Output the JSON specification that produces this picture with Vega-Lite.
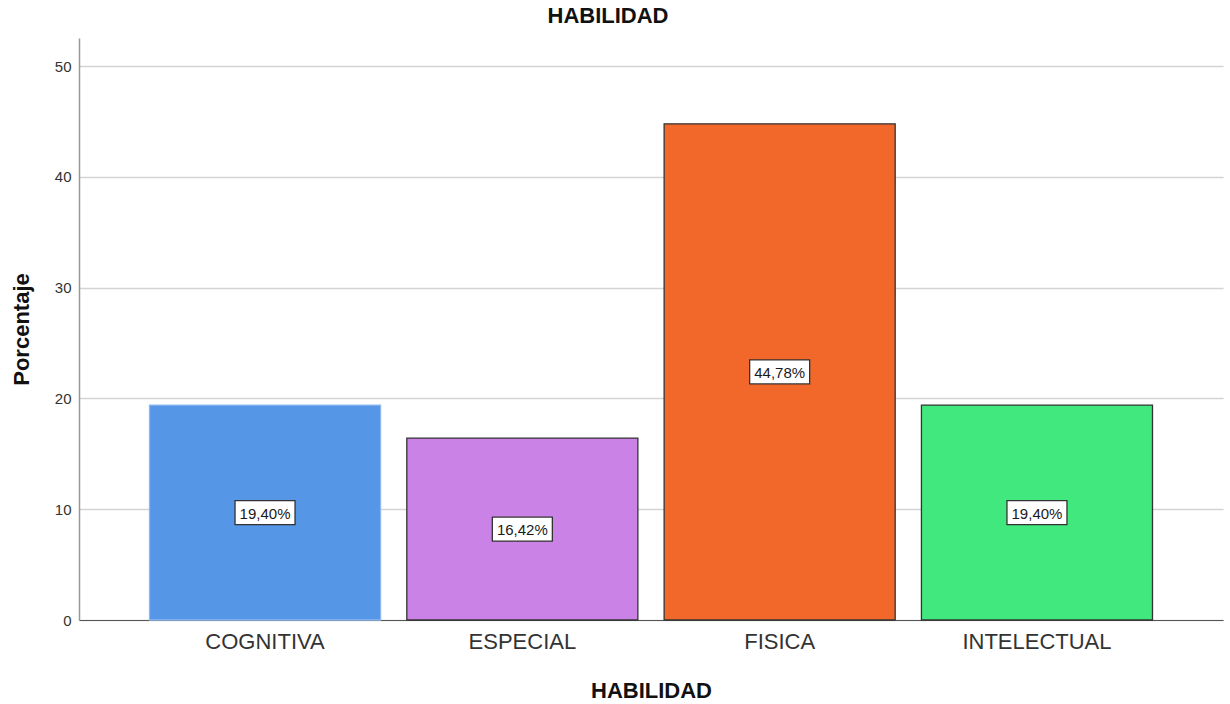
{
  "$schema": "https://vega.github.io/schema/vega-lite/v6.json",
  "autosize": {"type": "none"},
  "width": 1144,
  "height": 582,
  "padding": {"left": 79, "top": 38, "right": 7, "bottom": 84},
  "background": "white",
  "title": {
    "text": "HABILIDAD",
    "font": "Liberation Sans",
    "fontSize": 22,
    "fontWeight": "bold",
    "color": "#111",
    "anchor": "middle",
    "frame": "group",
    "offset": 10,
    "dx": -43
  },
  "data": {
    "values": [
      {"habilidad": "COGNITIVA", "porcentaje": 19.40, "label": "19,40%"},
      {"habilidad": "ESPECIAL", "porcentaje": 16.42, "label": "16,42%"},
      {"habilidad": "FISICA", "porcentaje": 44.78, "label": "44,78%"},
      {"habilidad": "INTELECTUAL", "porcentaje": 19.40, "label": "19,40%"}
    ]
  },
  "transform": [{"calculate": "datum.porcentaje / 2", "as": "mid"}],
  "encoding": {
    "x": {
      "field": "habilidad",
      "type": "nominal",
      "sort": null,
      "scale": {"paddingInner": 0.102, "paddingOuter": 0.274},
      "axis": {
        "title": "HABILIDAD",
        "labelAngle": 0,
        "labelFont": "Liberation Sans",
        "labelFontSize": 22,
        "labelColor": "#333",
        "labelPadding": 11,
        "ticks": false,
        "domainColor": "#555",
        "domainWidth": 1.2,
        "titleFont": "Liberation Sans",
        "titleFontSize": 22,
        "titleFontWeight": "bold",
        "titleColor": "#111",
        "titleBaseline": "alphabetic",
        "titleY": 77
      }
    }
  },
  "layer": [
    {
      "mark": {"type": "bar", "strokeWidth": 1.3, "opacity": 1},
      "encoding": {
        "y": {
          "field": "porcentaje",
          "type": "quantitative",
          "scale": {"domain": [0, 52.53], "nice": false},
          "axis": {
            "title": "Porcentaje",
            "values": [0, 10, 20, 30, 40, 50],
            "ticks": false,
            "labelFont": "Liberation Sans",
            "labelFontSize": 15,
            "labelColor": "#333",
            "labelPadding": 8,
            "domainColor": "#999",
            "domainWidth": 1.5,
            "grid": true,
            "gridColor": "#d4d4d4",
            "gridWidth": 1.5,
            "titleFont": "Liberation Sans",
            "titleFontSize": 22,
            "titleFontWeight": "bold",
            "titleColor": "#111",
            "titleX": -51,
            "titleY": 291,
            "titleAngle": -90,
            "titleAlign": "center",
            "titleBaseline": "alphabetic"
          }
        },
        "color": {
          "field": "habilidad",
          "type": "nominal",
          "sort": null,
          "scale": {
            "domain": ["COGNITIVA", "ESPECIAL", "FISICA", "INTELECTUAL"],
            "range": ["#5596E6", "#CB82E6", "#F2682A", "#41E87E"]
          },
          "legend": null
        },
        "stroke": {
          "field": "habilidad",
          "type": "nominal",
          "sort": null,
          "scale": {
            "domain": ["COGNITIVA", "ESPECIAL", "FISICA", "INTELECTUAL"],
            "range": ["#8DB8EE", "#333333", "#333333", "#333333"]
          },
          "legend": null
        }
      }
    },
    {
      "mark": {"type": "tick", "size": 60, "thickness": 24, "fill": "white", "stroke": "#333", "strokeWidth": 1.3, "opacity": 1},
      "encoding": {
        "y": {"field": "mid", "type": "quantitative"}
      }
    },
    {
      "mark": {"type": "text", "font": "Liberation Sans", "fontSize": 15, "color": "#1a1a1a", "baseline": "middle", "align": "center", "dy": 1},
      "encoding": {
        "y": {"field": "mid", "type": "quantitative"},
        "text": {"field": "label", "type": "nominal"}
      }
    }
  ],
  "config": {"view": {"stroke": null}}
}
